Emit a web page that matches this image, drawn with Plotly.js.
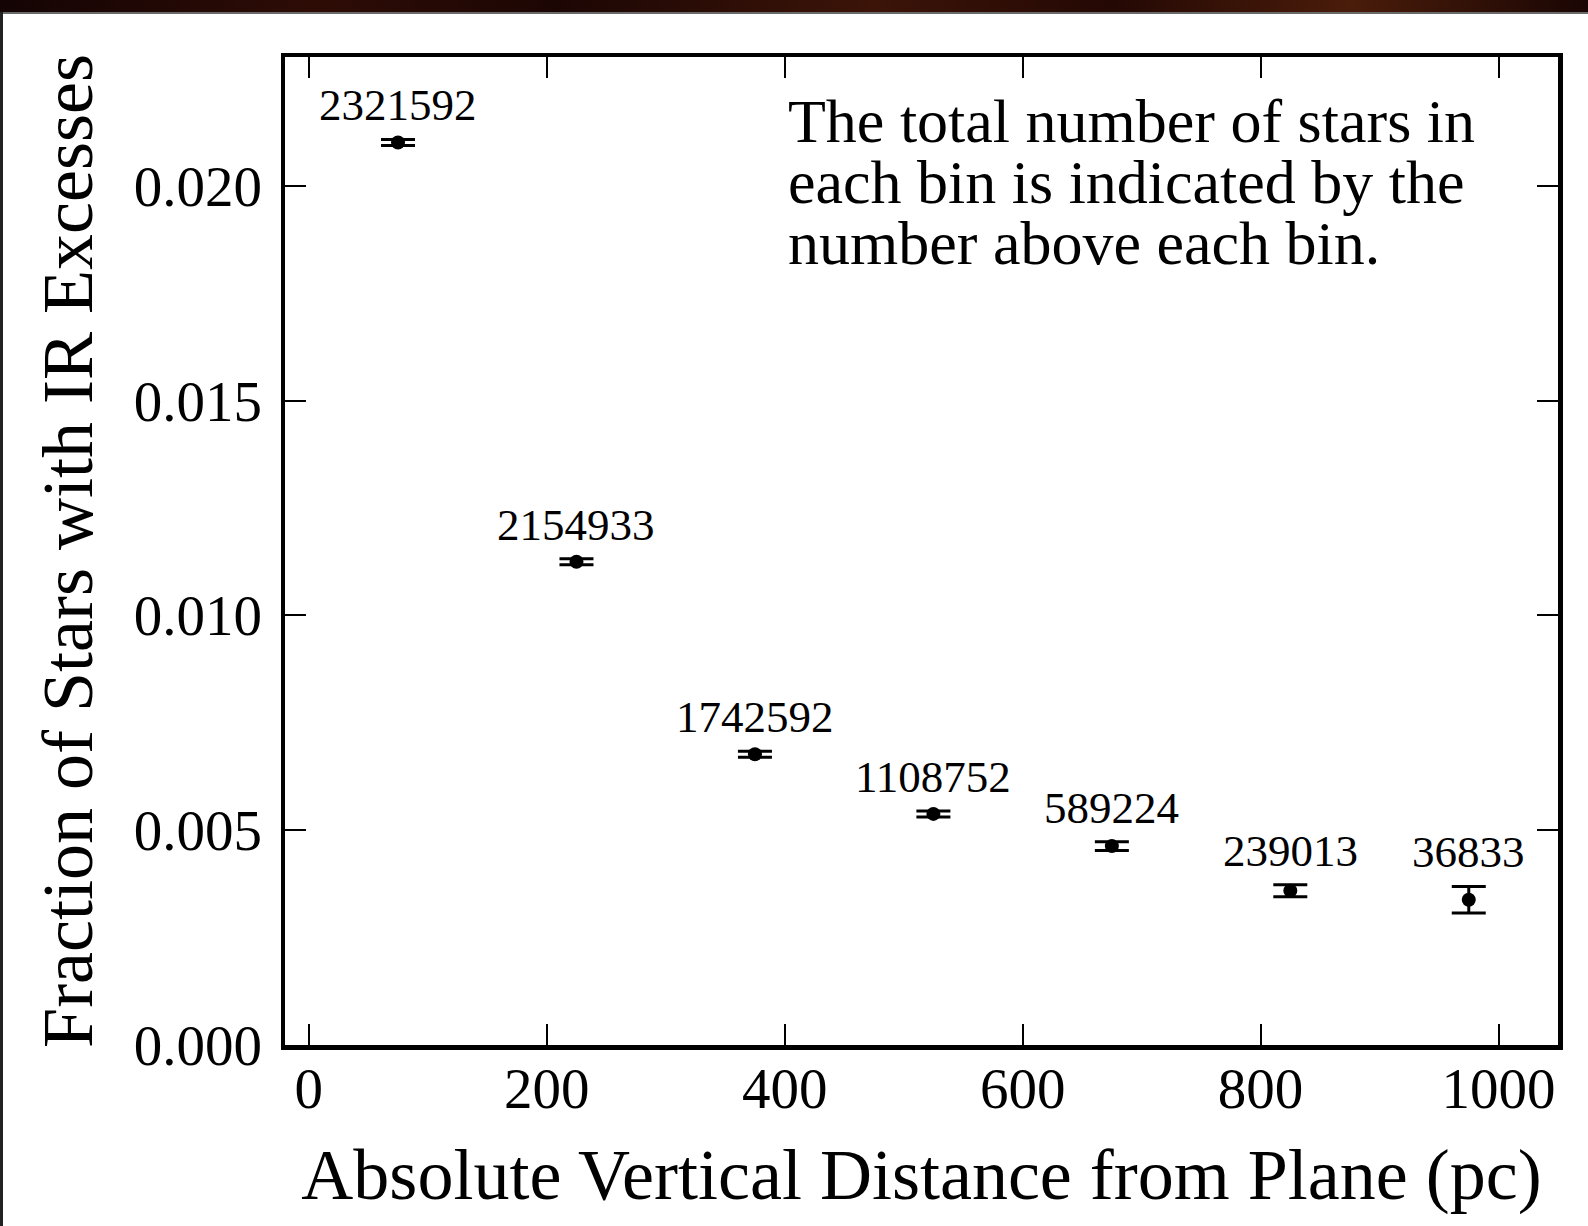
<!DOCTYPE html>
<html>
<head>
<meta charset="utf-8">
<script src="https://cdn.plot.ly/plotly-3.0.1.min.js"></script>
<style>
  html, body { margin: 0; padding: 0; background: #ffffff; }
  #wrap { position: relative; width: 1588px; height: 1226px; overflow: hidden; }
  #chart { position: absolute; left: 0; top: 0; width: 1588px; height: 1226px; }
  #strip { position: absolute; left: 0; top: 0; width: 1588px; height: 12px;
    background: linear-gradient(90deg, #140404 0%, #2e0c06 20%, #1c0604 35%, #3c1408 55%, #240804 70%, #4a1c0a 85%, #1a0604 100%);
    border-bottom: 2px solid #6a6a6a; z-index: 5; }
  #lborder { position: absolute; left: 0; top: 12px; width: 3px; height: 1214px; background: #222; z-index: 5; }
</style>
</head>
<body>
<div id="wrap">
  <div id="chart"></div>
  <div id="strip"></div>
  <div id="lborder"></div>
</div>
<script>
// Data
var distance = [75, 225, 375, 525, 675, 825, 975];
var fraction = [0.02101, 0.01125, 0.00677, 0.00538, 0.00463, 0.00359, 0.00338];
var fractionErr = [0.00007, 0.00007, 0.00007, 0.00007, 0.00010, 0.00014, 0.00031];
var starCounts = ['2321592', '2154933', '1742592', '1108752', '589224', '239013', '36833'];
var noteLines = ['The total number of stars in', 'each bin is indicated by the', 'number above each bin.'];
var xTickVals = [0, 200, 400, 600, 800, 1000];
var yTickVals = [0.000, 0.005, 0.010, 0.015, 0.020];
var yTickText = ['0.000', '0.005', '0.010', '0.015', '0.020'];

var FONT = '"Liberation Serif", "Times New Roman", serif';

var trace = {
  x: distance,
  y: fraction,
  type: 'scatter',
  mode: 'markers',
  marker: { color: '#000000', size: 14 },
  error_y: { type: 'data', array: fractionErr, visible: true, color: '#000000', thickness: 3, width: 17 },
  showlegend: false,
  hoverinfo: 'x+y'
};

var annotations = [];
for (var i = 0; i < distance.length; i++) {
  annotations.push({
    x: distance[i], y: fraction[i] + fractionErr[i], xref: 'x', yref: 'y',
    text: starCounts[i], showarrow: false, xanchor: 'center', yanchor: 'middle',
    yshift: 34, font: { family: FONT, size: 45, color: '#000000' }
  });
}
var noteY = [0.935, 0.8735, 0.8117];
for (var j = 0; j < noteLines.length; j++) {
  annotations.push({
    x: 0.3936, y: noteY[j], xref: 'paper', yref: 'paper',
    text: noteLines[j], showarrow: false, xanchor: 'left', yanchor: 'middle',
    font: { family: FONT, size: 62, color: '#000000' }
  });
}

var axisCommon = {
  showgrid: false, zeroline: false, showline: true, linecolor: '#000000', linewidth: 4.5,
  mirror: 'allticks', ticks: 'inside', ticklen: 21, tickwidth: 2, tickcolor: '#000000',
  tickfont: { family: FONT, size: 57, color: '#000000' }
};

var layout = {
  width: 1588, height: 1226,
  paper_bgcolor: '#ffffff', plot_bgcolor: '#ffffff',
  margin: { l: 285, r: 30, t: 57, b: 181, pad: 0 },
  font: { family: FONT, color: '#000000' },
  xaxis: Object.assign({}, axisCommon, {
    range: [-20, 1050], tickmode: 'array', tickvals: xTickVals,
    ticklabelstandoff: -10,
    automargin: true,
    title: { text: 'Absolute Vertical Distance from Plane (pc)', font: { family: FONT, size: 72, color: '#000000' }, standoff: 31 }
  }),
  yaxis: Object.assign({}, axisCommon, {
    range: [0, 0.023], tickmode: 'array', tickvals: yTickVals, ticktext: yTickText,
    ticklabelstandoff: 7,
    automargin: true,
    title: { text: 'Fraction of Stars with IR Excesses', font: { family: FONT, size: 72, color: '#000000' }, standoff: 19 }
  }),
  annotations: annotations
};

Plotly.newPlot('chart', [trace], layout, { displayModeBar: false, staticPlot: true });
</script>
</body>
</html>
